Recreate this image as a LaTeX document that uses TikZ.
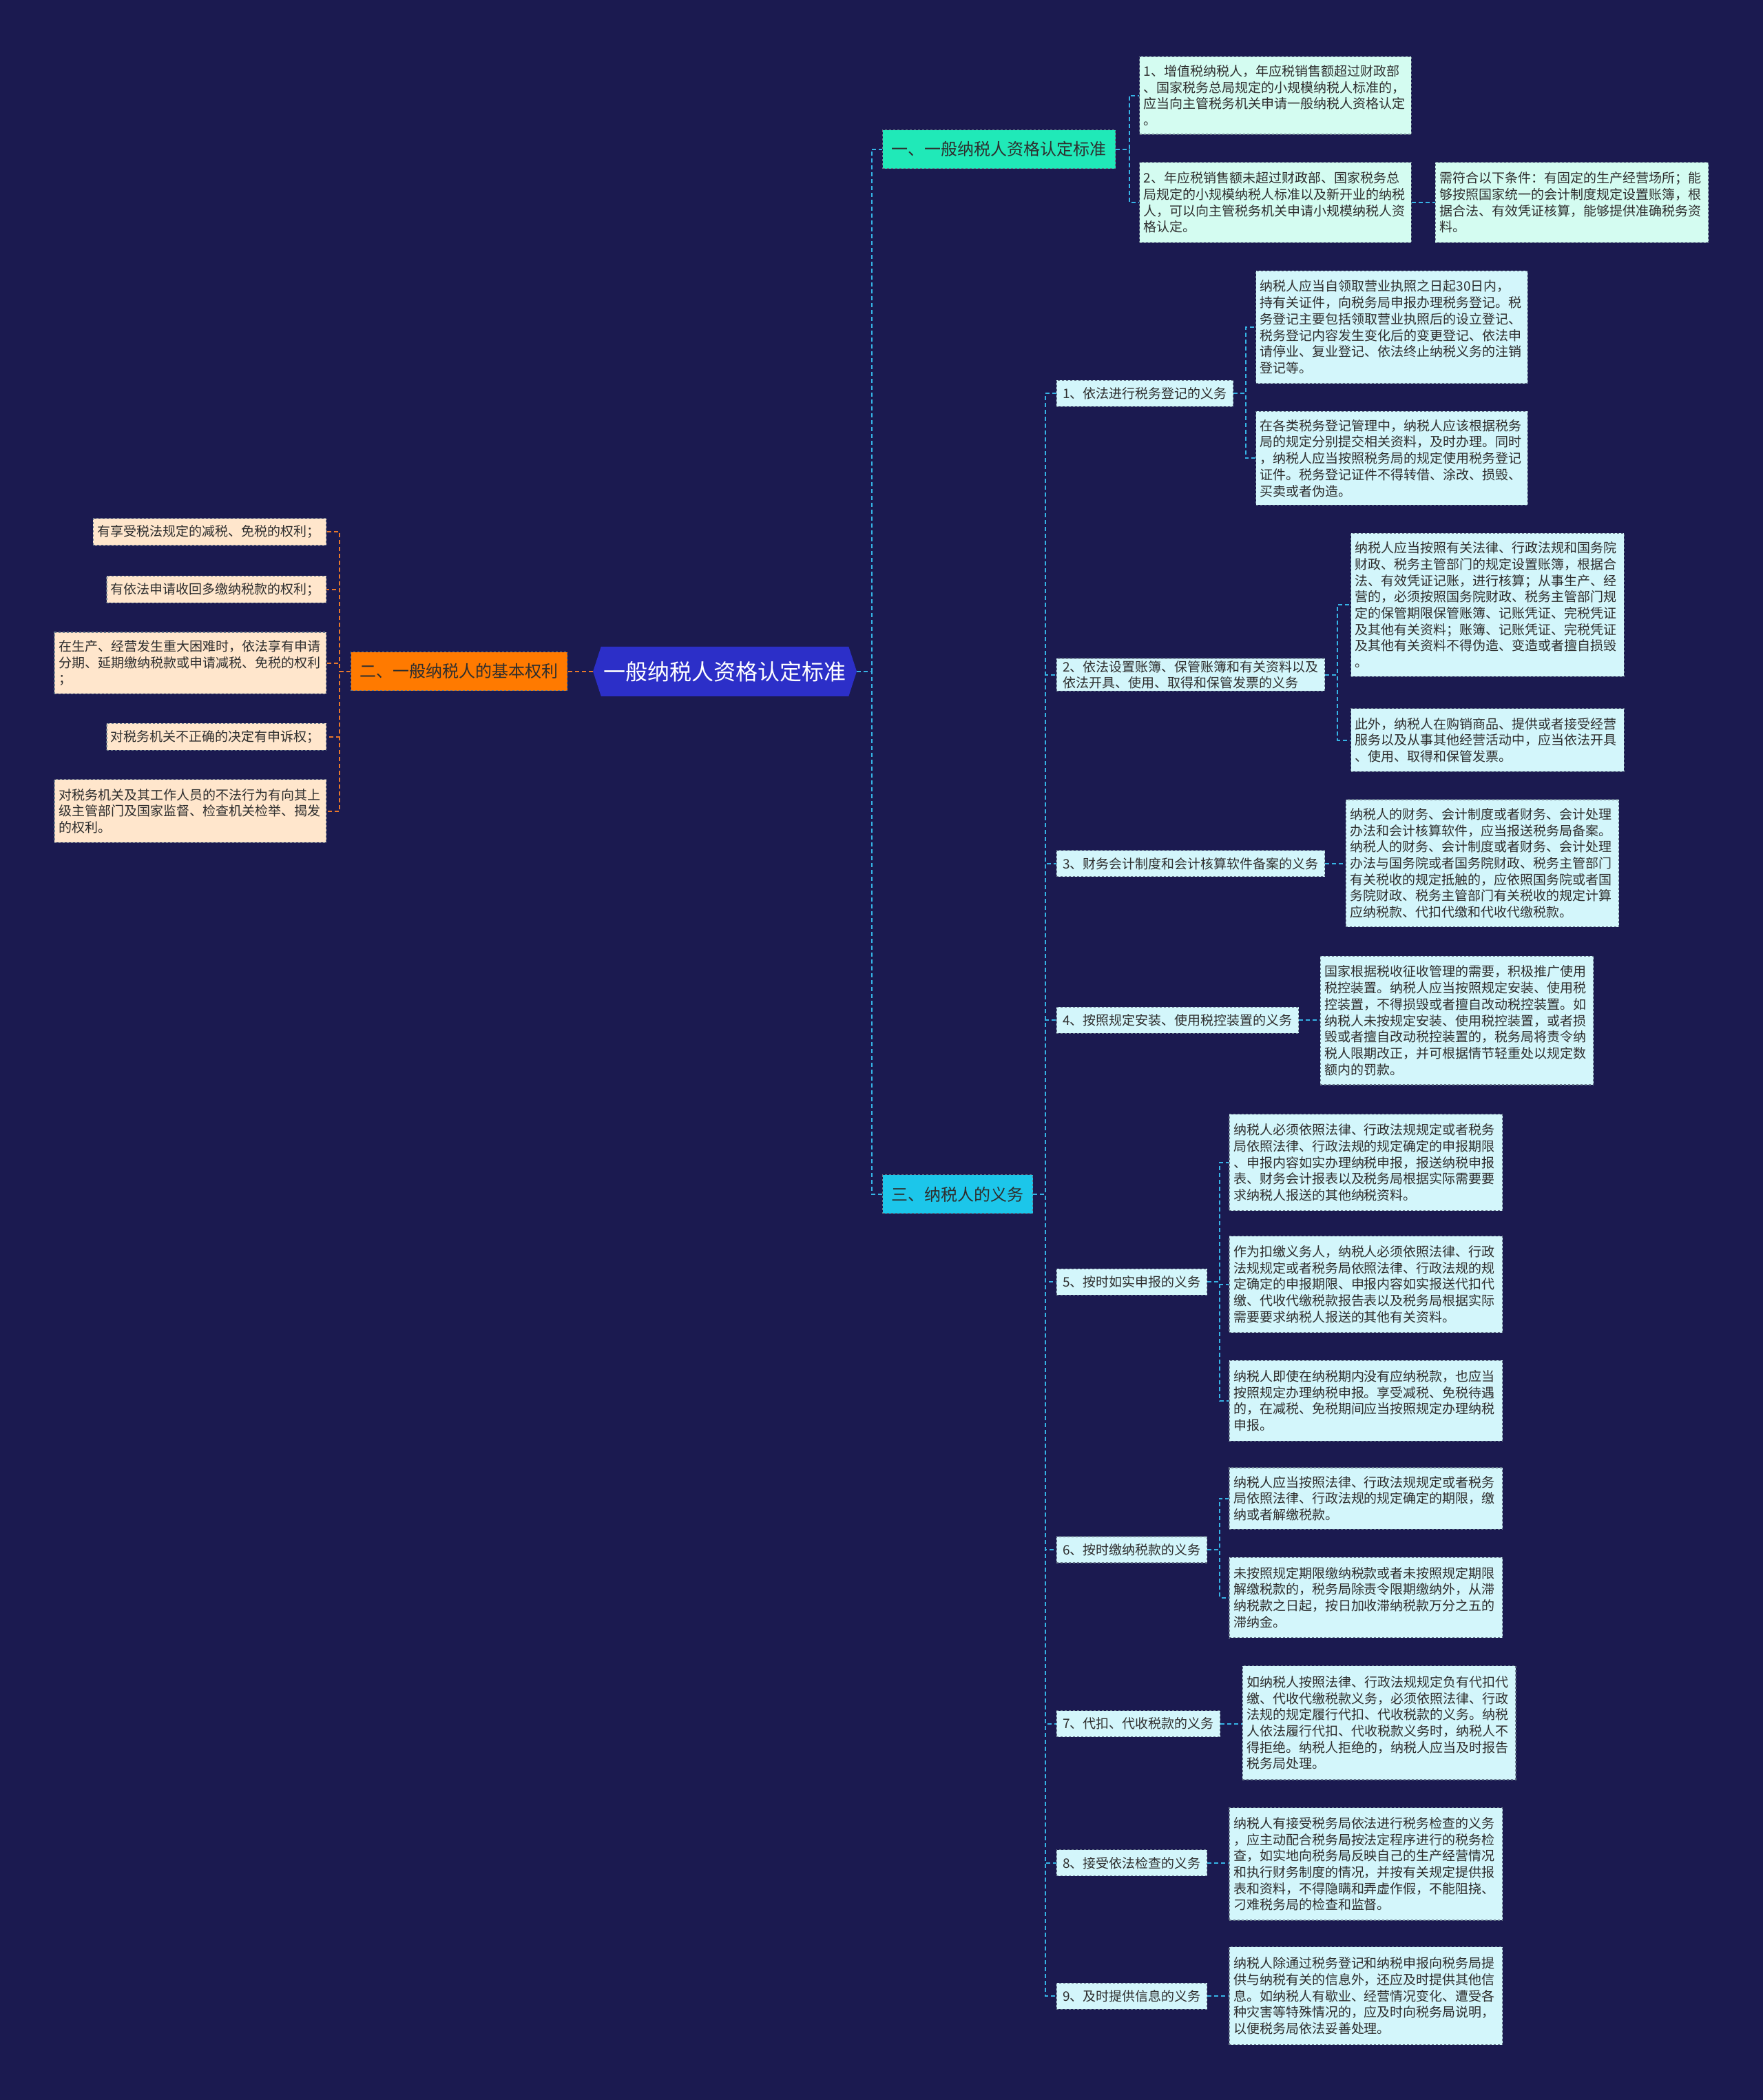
\documentclass[tikz,border=0pt]{standalone}
\usepackage{fontspec}
\newfontfamily\cjk{Noto Sans CJK SC}
\usetikzlibrary{calc}
\definecolor{bgc}{HTML}{1B1A50}
\definecolor{leafcyan}{HTML}{D3F6FB}
\definecolor{leafmint}{HTML}{D4FCF1}
\definecolor{leafpeach}{HTML}{FFE6CC}
\definecolor{bordc}{HTML}{6A7B8C}
\definecolor{linecyan}{HTML}{36B4E6}
\definecolor{lineorange}{HTML}{E8782C}
\definecolor{bmint}{HTML}{20E9B8}
\definecolor{borange}{HTML}{FF7A00}
\definecolor{bcyan}{HTML}{1CC6EA}
\definecolor{rootblue}{HTML}{2C2FC8}
\definecolor{txt}{HTML}{2E2E2E}
\newcommand\fsleaf{\cjk\fontsize{19}{23.7}\selectfont}
\newcommand\fsbranch{\cjk\fontsize{24}{28}\selectfont}
\newcommand\fsroot{\cjk\fontsize{32}{36}\selectfont}
\tikzset{
  leafbox/.style={draw=bordc, dashed, line width=1.2pt, fill=leafcyan, text=txt, align=left, inner xsep=6pt, inner ysep=3pt, font=\fsleaf},
  mintbox/.style={leafbox, fill=leafmint},
  peachbox/.style={leafbox, fill=leafpeach},
  midbox/.style={leafbox, inner xsep=9pt, minimum height=38pt},
  branchbox/.style={draw=bordc, dashed, line width=1.2pt, text=txt, inner xsep=13pt, minimum height=56pt, font=\fsbranch},
  conn/.style={draw=linecyan, line width=2pt, dash pattern=on 6pt off 4pt},
  connor/.style={draw=lineorange, line width=2pt, dash pattern=on 6pt off 4pt},
}
% style, name, x, ytop, w, h, text  (anchored north west)
\newcommand\leafnode[7]{%
  \pgfmathsetmacro\tw{#5*1.9438-12}%
  \pgfmathsetmacro\mh{#6*1.9438}%
  \node[#1, anchor=north west, text width=\tw pt, minimum height=\mh pt] (#2) at (#3,#4) {#7};%
}
% anchored north east
\newcommand\leafnodeE[7]{%
  \pgfmathsetmacro\tw{#5*1.9438-12}%
  \pgfmathsetmacro\mh{#6*1.9438}%
  \node[#1, anchor=north east, text width=\tw pt, minimum height=\mh pt] (#2) at (#3,#4) {#7};%
}
\begin{document}
\begin{tikzpicture}[x=1.9438pt,y=-1.9438pt]
\fill[bgc] (0,0) rectangle (1317,1568.6);
\useasboundingbox (0,0) rectangle (1317,1568.6);

% root
\fill[rootblue] (443,501.5) -- (449,483) -- (634,483) -- (640,501.5) -- (634,520) -- (449,520) -- cycle;
\node[font=\fsroot, text=white, minimum width=197*1.9438pt, minimum height=37*1.9438pt, inner sep=0pt] (root) at (541.5,501.5) {一般纳税人资格认定标准};

% branches
\node[branchbox, fill=bmint, anchor=west] (b1) at (659,111.5) {一、一般纳税人资格认定标准};
\node[branchbox, fill=borange, anchor=east] (b2) at (424,501.5) {二、一般纳税人的基本权利};
\node[branchbox, fill=bcyan, anchor=west] (b3) at (659,892) {三、纳税人的义务};

% branch 1 leaves
\leafnode{mintbox}{l1a}{851}{42}{203}{58}{1、增值税纳税人，年应税销售额超过财政部\\、国家税务总局规定的小规模纳税人标准的，\\应当向主管税务机关申请一般纳税人资格认定\\。}
\leafnode{mintbox}{l1b}{851}{121}{203}{60}{2、年应税销售额未超过财政部、国家税务总\\局规定的小规模纳税人标准以及新开业的纳税\\人，可以向主管税务机关申请小规模纳税人资\\格认定。}
\leafnode{mintbox}{l1c}{1072}{121}{204}{60}{需符合以下条件：有固定的生产经营场所；能\\够按照国家统一的会计制度规定设置账簿，根\\据合法、有效凭证核算，能够提供准确税务资\\料。}

% branch 2 leaves
\leafnodeE{peachbox}{r1}{244}{387}{174}{20}{有享受税法规定的减税、免税的权利；}
\leafnodeE{peachbox}{r2}{244}{430}{164}{20}{有依法申请收回多缴纳税款的权利；}
\leafnodeE{peachbox}{r3}{244}{472}{203}{46}{在生产、经营发生重大困难时，依法享有申请\\分期、延期缴纳税款或申请减税、免税的权利\\；}
\leafnodeE{peachbox}{r4}{244}{540}{164}{20}{对税务机关不正确的决定有申诉权；}
\leafnodeE{peachbox}{r5}{244}{582}{203}{47}{对税务机关及其工作人员的不法行为有向其上\\级主管部门及国家监督、检查机关检举、揭发\\的权利。}

% branch 3 middle nodes
\node[midbox, anchor=west] (o1) at (789,294) {1、依法进行税务登记的义务};
\node[midbox, anchor=west] (o2) at (789,504) {2、依法设置账簿、保管账簿和有关资料以及\\依法开具、使用、取得和保管发票的义务};
\node[midbox, anchor=west] (o3) at (789,645) {3、财务会计制度和会计核算软件备案的义务};
\node[midbox, anchor=west] (o4) at (789,762) {4、按照规定安装、使用税控装置的义务};
\node[midbox, anchor=west] (o5) at (789,957.5) {5、按时如实申报的义务};
\node[midbox, anchor=west] (o6) at (789,1157.5) {6、按时缴纳税款的义务};
\node[midbox, anchor=west] (o7) at (789,1287.5) {7、代扣、代收税款的义务};
\node[midbox, anchor=west] (o8) at (789,1391.5) {8、接受依法检查的义务};
\node[midbox, anchor=west] (o9) at (789,1491) {9、及时提供信息的义务};

% branch 3 leaves
\leafnode{leafbox}{o1a}{938}{202}{203}{84}{纳税人应当自领取营业执照之日起30日内，\\持有关证件，向税务局申报办理税务登记。税\\务登记主要包括领取营业执照后的设立登记、\\税务登记内容发生变化后的变更登记、依法申\\请停业、复业登记、依法终止纳税义务的注销\\登记等。}
\leafnode{leafbox}{o1b}{938}{307}{203}{70}{在各类税务登记管理中，纳税人应该根据税务\\局的规定分别提交相关资料，及时办理。同时\\，纳税人应当按照税务局的规定使用税务登记\\证件。税务登记证件不得转借、涂改、损毁、\\买卖或者伪造。}
\leafnode{leafbox}{o2a}{1009}{398}{204}{107}{纳税人应当按照有关法律、行政法规和国务院\\财政、税务主管部门的规定设置账簿，根据合\\法、有效凭证记账，进行核算；从事生产、经\\营的，必须按照国务院财政、税务主管部门规\\定的保管期限保管账簿、记账凭证、完税凭证\\及其他有关资料；账簿、记账凭证、完税凭证\\及其他有关资料不得伪造、变造或者擅自损毁\\。}
\leafnode{leafbox}{o2b}{1009}{529}{204}{47}{此外，纳税人在购销商品、提供或者接受经营\\服务以及从事其他经营活动中，应当依法开具\\、使用、取得和保管发票。}
\leafnode{leafbox}{o3a}{1005}{597}{204}{95}{纳税人的财务、会计制度或者财务、会计处理\\办法和会计核算软件，应当报送税务局备案。\\纳税人的财务、会计制度或者财务、会计处理\\办法与国务院或者国务院财政、税务主管部门\\有关税收的规定抵触的，应依照国务院或者国\\务院财政、税务主管部门有关税收的规定计算\\应纳税款、代扣代缴和代收代缴税款。}
\leafnode{leafbox}{o4a}{986}{714}{204}{96}{国家根据税收征收管理的需要，积极推广使用\\税控装置。纳税人应当按照规定安装、使用税\\控装置，不得损毁或者擅自改动税控装置。如\\纳税人未按规定安装、使用税控装置，或者损\\毁或者擅自改动税控装置的，税务局将责令纳\\税人限期改正，并可根据情节轻重处以规定数\\额内的罚款。}
\leafnode{leafbox}{o5a}{918}{832}{204}{72}{纳税人必须依照法律、行政法规规定或者税务\\局依照法律、行政法规的规定确定的申报期限\\、申报内容如实办理纳税申报，报送纳税申报\\表、财务会计报表以及税务局根据实际需要要\\求纳税人报送的其他纳税资料。}
\leafnode{leafbox}{o5b}{918}{923}{204}{72}{作为扣缴义务人，纳税人必须依照法律、行政\\法规规定或者税务局依照法律、行政法规的规\\定确定的申报期限、申报内容如实报送代扣代\\缴、代收代缴税款报告表以及税务局根据实际\\需要要求纳税人报送的其他有关资料。}
\leafnode{leafbox}{o5c}{918}{1016}{204}{60}{纳税人即使在纳税期内没有应纳税款，也应当\\按照规定办理纳税申报。享受减税、免税待遇\\的，在减税、免税期间应当按照规定办理纳税\\申报。}
\leafnode{leafbox}{o6a}{918}{1096}{204}{46}{纳税人应当按照法律、行政法规规定或者税务\\局依照法律、行政法规的规定确定的期限，缴\\纳或者解缴税款。}
\leafnode{leafbox}{o6b}{918}{1163}{204}{60}{未按照规定期限缴纳税款或者未按照规定期限\\解缴税款的，税务局除责令限期缴纳外，从滞\\纳税款之日起，按日加收滞纳税款万分之五的\\滞纳金。}
\leafnode{leafbox}{o7a}{928}{1244}{204}{85}{如纳税人按照法律、行政法规规定负有代扣代\\缴、代收代缴税款义务，必须依照法律、行政\\法规的规定履行代扣、代收税款的义务。纳税\\人依法履行代扣、代收税款义务时，纳税人不\\得拒绝。纳税人拒绝的，纳税人应当及时报告\\税务局处理。}
\leafnode{leafbox}{o8a}{918}{1350}{204}{84}{纳税人有接受税务局依法进行税务检查的义务\\，应主动配合税务局按法定程序进行的税务检\\查，如实地向税务局反映自己的生产经营情况\\和执行财务制度的情况，并按有关规定提供报\\表和资料，不得隐瞒和弄虚作假，不能阻挠、\\刁难税务局的检查和监督。}
\leafnode{leafbox}{o9a}{918}{1454}{204}{73}{纳税人除通过税务登记和纳税申报向税务局提\\供与纳税有关的信息外，还应及时提供其他信\\息。如纳税人有歇业、经营情况变化、遭受各\\种灾害等特殊情况的，应及时向税务局说明，\\以便税务局依法妥善处理。}

% connectors: root
\draw[conn] (root.east) -- ++(11,0) |- (b1.west);
\draw[conn] (root.east) -- ++(11,0) |- (b3.west);
\draw[connor] (root.west) -- (b2.east);
% branch 1
\draw[conn] (b1.east) -- ++(10,0) |- (l1a.west);
\draw[conn] (b1.east) -- ++(10,0) |- (l1b.west);
\draw[conn] (l1b.east) -- (l1b.east -| l1c.west);
% branch 2
\foreach \r in {r1,r2,r3,r4,r5}{
  \draw[connor] (b2.west) -- ++(-8,0) |- (\r.east);
}
% branch 3
\foreach \o in {o1,o2,o3,o4,o5,o6,o7,o8,o9}{
  \draw[conn] (b3.east) -- ++(9,0) |- (\o.west);
}
\draw[conn] (o1.east) -- ++(9,0) |- (o1a.west);
\draw[conn] (o1.east) -- ++(9,0) |- (o1b.west);
\draw[conn] (o2.east) -- ++(9,0) |- (o2a.west);
\draw[conn] (o2.east) -- ++(9,0) |- (o2b.west);
\draw[conn] (o3.east) -- (o3.east -| o3a.west);
\draw[conn] (o4.east) -- (o4.east -| o4a.west);
\draw[conn] (o5.east) -- ++(9,0) |- (o5a.west);
\draw[conn] (o5.east) -- ++(9,0) |- (o5b.west);
\draw[conn] (o5.east) -- ++(9,0) |- (o5c.west);
\draw[conn] (o6.east) -- ++(9,0) |- (o6a.west);
\draw[conn] (o6.east) -- ++(9,0) |- (o6b.west);
\draw[conn] (o7.east) -- (o7.east -| o7a.west);
\draw[conn] (o8.east) -- (o8.east -| o8a.west);
\draw[conn] (o9.east) -- (o9.east -| o9a.west);
\end{tikzpicture}
\end{document}
